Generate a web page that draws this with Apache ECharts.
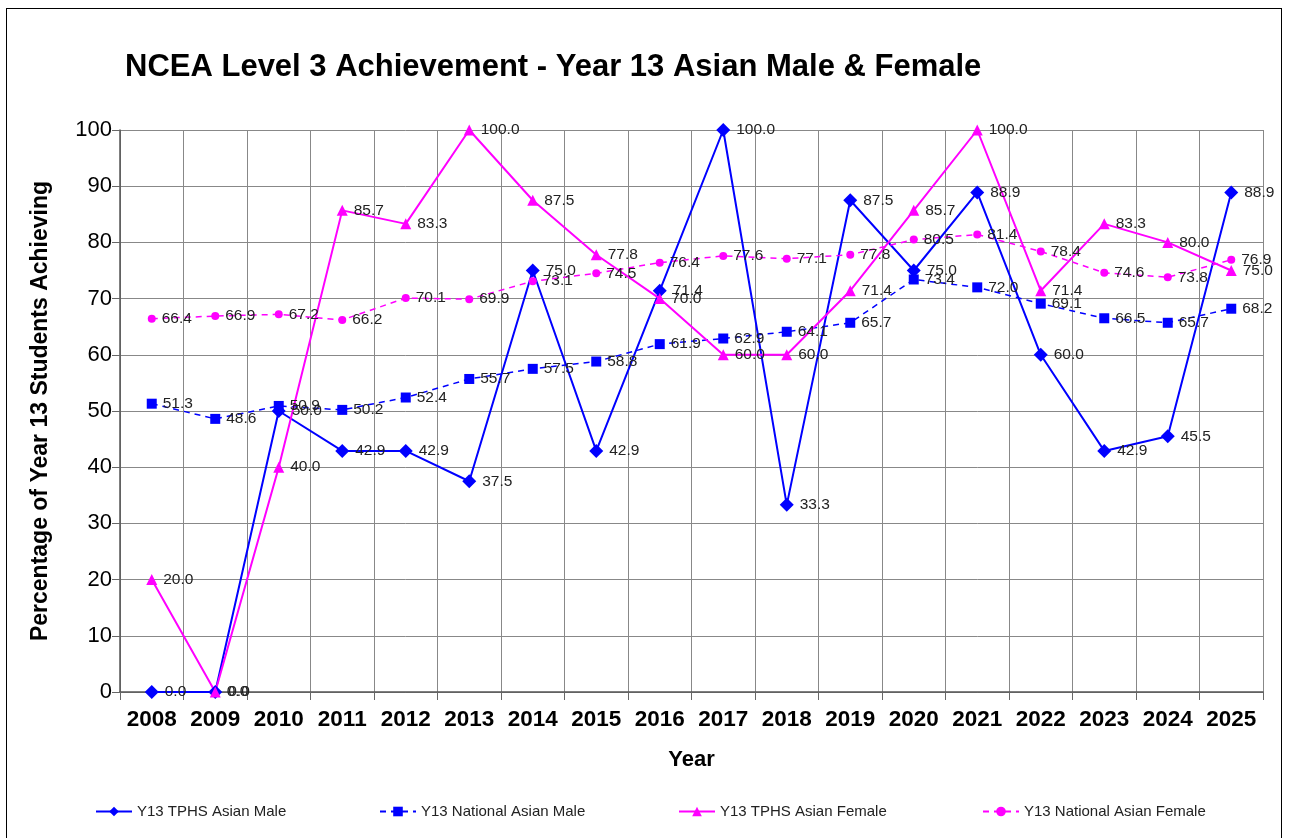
<!DOCTYPE html>
<html>
<head>
<meta charset="utf-8">
<script src="https://cdn.jsdelivr.net/npm/echarts@6/dist/echarts.min.js"></script>
<style>
  html, body { margin: 0; padding: 0; background: #fff; }
  #frame { position: absolute; left: 6px; top: 8px; width: 1276px; height: 840px; border: 1px solid #000; box-sizing: border-box; }
  #chart { position: absolute; left: 0; top: 0; width: 1289px; height: 838px; }
</style>
</head>
<body>
<div id="frame"></div>
<div id="chart"></div>
<script>
// 年份与四条序列
const years = ['2008', '2009', '2010', '2011', '2012', '2013', '2014', '2015', '2016',
  '2017', '2018', '2019', '2020', '2021', '2022', '2023', '2024', '2025'];
const tphsMale = [0.0, 0.0, 50.0, 42.9, 42.9, 37.5, 75.0, 42.9, 71.4,
  100.0, 33.3, 87.5, 75.0, 88.9, 60.0, 42.9, 45.5, 88.9];
const nationalMale = [51.3, 48.6, 50.9, 50.2, 52.4, 55.7, 57.5, 58.8, 61.9,
  62.9, 64.1, 65.7, 73.4, 72.0, 69.1, 66.5, 65.7, 68.2];
const tphsFemale = [20.0, 0.0, 40.0, 85.7, 83.3, 100.0, 87.5, 77.8, 70.0,
  60.0, 60.0, 71.4, 85.7, 100.0, 71.4, 83.3, 80.0, 75.0];
const nationalFemale = [66.4, 66.9, 67.2, 66.2, 70.1, 69.9, 73.1, 74.5, 76.4,
  77.6, 77.1, 77.8, 80.5, 81.4, 78.4, 74.6, 73.8, 76.9];

const font = 'Liberation Sans, Arial, sans-serif';

const label = {
  show: true,
  position: 'right',
  distance: 6,
  fontFamily: font,
  fontSize: 15.5,
  color: '#222',
  formatter: p => p.value.toFixed(1)
};

function series(name, data, color, symbol, size, dashed) {
  return {
    name,
    type: 'line',
    data,
    symbol,
    symbolSize: size,
    itemStyle: { color },
    lineStyle: { color, width: dashed ? 1.5 : 2, type: dashed ? [6, 5] : 'solid' },
    label,
    animation: false
  };
}

const legendBase = {
  bottom: 14,
  itemWidth: 36,
  itemHeight: 12,
  itemGap: 4,
  textStyle: { fontFamily: font, fontSize: 15, color: '#222' }
};

const chart = echarts.init(document.getElementById('chart'));
chart.setOption({
  backgroundColor: 'transparent',
  title: {
    text: 'NCEA Level 3 Achievement - Year 13 Asian Male & Female',
    left: 120,
    top: 47,
    textStyle: { fontFamily: font, fontSize: 31, fontWeight: 'bold', color: '#000' }
  },
  legend: [
    Object.assign({}, legendBase, { left: 90, data: ['Y13 TPHS Asian Male'] }),
    Object.assign({}, legendBase, { left: 374, data: ['Y13 National Asian Male'] }),
    Object.assign({}, legendBase, { left: 673, data: ['Y13 TPHS Asian Female'] }),
    Object.assign({}, legendBase, { left: 977, data: ['Y13 National Asian Female'] })
  ],
  grid: { left: 120, right: 26, top: 130, bottom: 146 },
  xAxis: {
    type: 'category',
    data: years,
    boundaryGap: true,
    name: 'Year',
    nameLocation: 'middle',
    nameGap: 57,
    nameTextStyle: { fontFamily: font, fontSize: 22, fontWeight: 'bold', color: '#000' },
    axisLine: { lineStyle: { color: '#555', width: 1.5 } },
    axisTick: { show: true, interval: 0, length: 8, lineStyle: { color: '#666' } },
    axisLabel: { interval: 0, hideOverlap: false, fontFamily: font, fontSize: 22.5, fontWeight: 'bold', color: '#000', margin: 16 },
    splitLine: { show: true, interval: 0, lineStyle: { color: '#888', width: 1 } }
  },
  yAxis: {
    type: 'value',
    min: 0,
    max: 100,
    interval: 10,
    name: 'Percentage of Year 13 Students Achieving',
    nameLocation: 'middle',
    nameGap: 68,
    nameTextStyle: { fontFamily: font, fontSize: 23, fontWeight: 'bold', color: '#000' },
    axisLine: { show: true, lineStyle: { color: '#555', width: 1.5 } },
    axisTick: { show: true, length: 8, lineStyle: { color: '#666' } },
    axisLabel: { fontFamily: font, fontSize: 22, color: '#000', margin: 8 },
    splitLine: { show: true, lineStyle: { color: '#888', width: 1 } }
  },
  series: [
    series('Y13 TPHS Asian Male', tphsMale, '#0000ff', 'diamond', 14, false),
    series('Y13 National Asian Male', nationalMale, '#0000ff', 'rect', 10, true),
    series('Y13 TPHS Asian Female', tphsFemale, '#ff00ff', 'triangle', 11, false),
    series('Y13 National Asian Female', nationalFemale, '#ff00ff', 'circle', 8, true)
  ]
});
</script>
</body>
</html>
